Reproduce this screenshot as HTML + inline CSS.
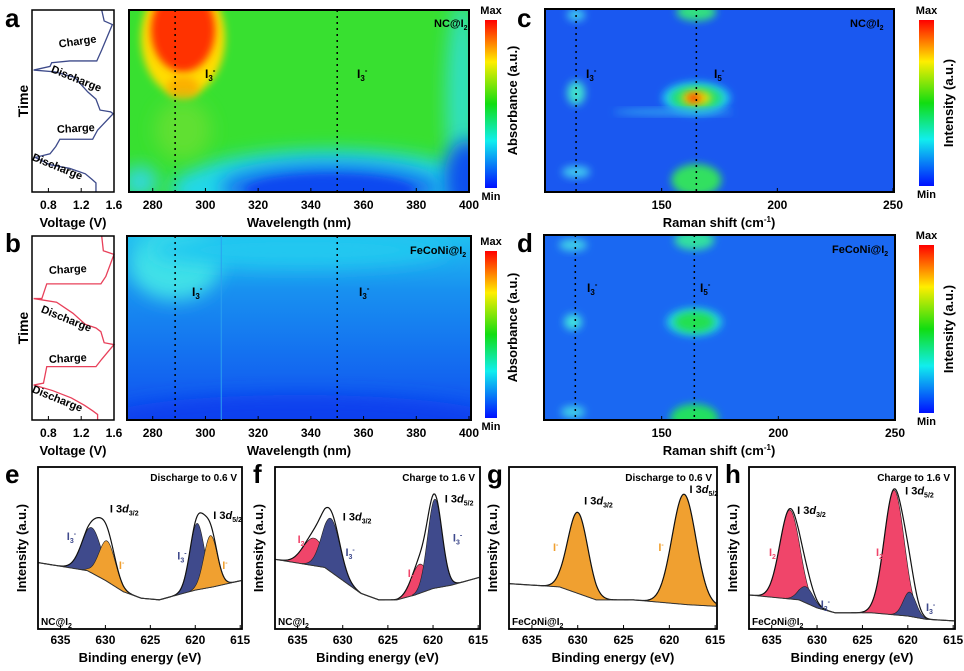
<!DOCTYPE html>
<html><head><meta charset="utf-8"><style>
body{margin:0;background:#fff;width:964px;height:666px;overflow:hidden}
svg{font-family:"Liberation Sans",Arial,sans-serif;font-weight:bold}
</style></head><body>
<svg id="fig" width="964" height="666" viewBox="0 0 964 666" xmlns="http://www.w3.org/2000/svg">
<defs>
<linearGradient id="jet" x1="0" y1="0" x2="0" y2="1">
<stop offset="0" stop-color="#ff0000"/><stop offset="0.25" stop-color="#ffee00"/><stop offset="0.5" stop-color="#11dd11"/><stop offset="0.72" stop-color="#11eeee"/><stop offset="1" stop-color="#0010ff"/></linearGradient>
<linearGradient id="bgB" x1="0" y1="0" x2="0" y2="1"><stop offset="0" stop-color="#20c0f0"/><stop offset="0.3" stop-color="#1890f0"/><stop offset="1" stop-color="#1050f0"/></linearGradient>
<filter id="bl" x="-50%" y="-50%" width="200%" height="200%"><feGaussianBlur stdDeviation="9"/></filter>
<filter id="bl2" x="-50%" y="-50%" width="200%" height="200%"><feGaussianBlur stdDeviation="4"/></filter>
<clipPath id="cA"><rect x="129" y="10" width="340" height="182"/></clipPath>
<clipPath id="cB"><rect x="127" y="236" width="344" height="184"/></clipPath>
<clipPath id="cC"><rect x="545" y="9" width="349" height="183"/></clipPath>
<clipPath id="cD"><rect x="544" y="235" width="351" height="185"/></clipPath>
</defs>
<g id="root"></g>
</svg>
<script>
// ---- data ----
const wlTicks=[280,300,320,340,360,380,400];
const ramanTicks=[150,200,250];
const voltTicks=[0.8,1.2,1.6];
const beTicks=[635,630,625,620,615];
const voltA=[1.45,1.48,1.58,1.45,1.39,1.06,0.84,0.82,0.62,0.88,1.12,1.28,1.38,1.43,1.56,1.59,1.40,1.34,0.94,0.89,0.82,0.64,0.82,1.06,1.25,1.33,1.38,1.38];
const timeA=[1.0,0.94,0.92,0.78,0.72,0.72,0.71,0.69,0.67,0.66,0.63,0.55,0.51,0.45,0.44,0.43,0.34,0.29,0.29,0.25,0.21,0.19,0.15,0.13,0.10,0.07,0.05,0.0];
const voltB=[1.45,1.47,1.60,1.50,1.44,0.78,0.72,0.62,0.90,1.10,1.25,1.38,1.44,1.48,1.60,1.45,1.38,0.78,0.74,0.62,0.85,1.08,1.24,1.34,1.40,1.40];
const timeB=[1.0,0.92,0.90,0.78,0.74,0.74,0.66,0.66,0.64,0.58,0.52,0.50,0.48,0.42,0.41,0.33,0.29,0.29,0.20,0.19,0.16,0.12,0.08,0.05,0.03,0.0];
const beBaseE=[637.5,632,630,628,626,624,622,620,618,614.8];
const baseE_=[0.41,0.36,0.30,0.23,0.19,0.18,0.21,0.24,0.26,0.30];
const baseF_=[0.43,0.38,0.30,0.22,0.18,0.18,0.21,0.25,0.27,0.32];
const baseG_=[0.28,0.26,0.22,0.18,0.18,0.18,0.17,0.16,0.15,0.14];
const baseH_=[0.21,0.18,0.13,0.10,0.10,0.10,0.09,0.08,0.06,0.05];
const peakE_c=[631.5,629.8,619.8,618.3], peakE_h=[0.28,0.25,0.41,0.32], peakE_w=[1.1,0.9,0.8,0.75], peakE_s=['I3','I','I3','I'];
const peakF_c=[633.2,631.3,621.5,619.8], peakF_h=[0.17,0.33,0.18,0.55], peakF_w=[1.2,1.0,0.9,0.8], peakF_s=['I2','I3','I2','I3'];
const peakG_c=[630.0,618.4], peakG_h=[0.50,0.68], peakG_w=[1.1,1.3], peakG_s=['I','I'];
const peakH_c=[633.0,631.2,621.5,619.8], peakH_h=[0.55,0.10,0.77,0.15], peakH_w=[1.1,0.8,1.1,0.7], peakH_s=['I2','I3','I2','I3'];
const colors={I3:'#3f4a8c',I:'#f0a030',I2:'#f0456a'};

const NS='http://www.w3.org/2000/svg';
const root=document.getElementById('root');
function el(tag,attrs,parent,text){const e=document.createElementNS(NS,tag);for(const k in attrs)e.setAttribute(k,attrs[k]);if(text!==undefined)e.textContent=text;(parent||root).appendChild(e);return e;}
function T(x,y,s,size,name,extra){const t=el('text',Object.assign({x:x,y:y,'font-size':size||12,fill:'#000'},extra||{}),root);t.innerHTML=s;


return t;}
function lin(d0,d1,r0,r1){return v=>r0+(v-d0)*(r1-r0)/(d1-d0);}

[['a',5,27],['b',5,252],['c',517,27],['d',517,252],['e',5,483],['f',253,483],['g',487,483],['h',725,483]].forEach(p=>{T(p[1],p[2],p[0],26,'panel-label-'+p[0]);});

function voltPanel(y0,y1,V,Tm,col,labels,nm){
  const x=lin(0.6,1.6,32,114), y=lin(0,1,y1,y0);
  const g=el('g',{});
  
  
  const pl=el('polyline',{points:V.map((v,i)=>x(v)+','+y(Tm[i])).join(' '),fill:'none',stroke:col,'stroke-width':1.3},g);
  
  
  el('rect',{x:32,y:y0,width:82,height:y1-y0,fill:'none',stroke:'#000','stroke-width':1.5},g);
  voltTicks.forEach(v=>{el('line',{x1:x(v),x2:x(v),y1:y1,y2:y1-4,stroke:'#000'},g);T(x(v),y1+17,v.toFixed(1),12,'voltage-tick',{'text-anchor':'middle'});});
  T(73,y1+35,'Voltage (V)',13,'voltage-axis-title',{'text-anchor':'middle'});
  T(28,(y0+y1)/2,'Time',14,'time-axis-title',{'text-anchor':'middle',transform:`rotate(-90 28 ${(y0+y1)/2})`});
  labels.forEach(l=>T(l[0],l[1],l[2],11,'state-label',{'text-anchor':'middle',transform:`rotate(${l[3]} ${l[0]} ${l[1]})`}));
}
voltPanel(10,192,voltA,timeA,'#3d4a8a',[[78,45,'Charge',-8],[75,82,'Discharge',22],[76,132,'Charge',-3],[56,170,'Discharge',22]],'voltage-panel-a');
voltPanel(236,420,voltB,timeB,'#e8405a',[[68,273,'Charge',-3],[65,322,'Discharge',22],[68,362,'Charge',-3],[56,402,'Discharge',22]],'voltage-panel-b');

function heat(x0,y0,w,h,clip,bg,blobs,name){
  const g=el('g',{'clip-path':'url(#'+clip+')'});
  
  
  el('rect',{x:x0,y:y0,width:w,height:h,fill:bg},g);
  blobs.forEach(b=>el('ellipse',{cx:b[0],cy:b[1],rx:b[2],ry:b[3],fill:b[4],filter:'url(#'+(b[5]||'bl')+')'},g));
  el('rect',{x:x0,y:y0,width:w,height:h,fill:'none',stroke:'#000','stroke-width':2},root);
}
const wx=lin(271,400,129,469);
const rxC=lin(100,250,546,893);
const rxD=lin(100,250,545,895);
heat(129,10,340,182,'cA','#38e030',[[330,190,160,40,'#20d8e8','bl'],[330,188,110,24,'#1870f0','bl'],[330,190,85,16,'#0c48f0','bl2'],[462,100,16,100,'#30e0c0','bl'],[468,180,24,40,'#1050f0','bl'],[140,182,18,16,'#30d8e0','bl'],[183,38,42,58,'#ffdd00','bl2'],[183,30,32,42,'#ff3000','bl2'],[183,88,16,12,'#ffb000','bl2'],[183,130,28,30,'#60e030','bl']],'uvvis-heatmap-a');
heat(127,236,344,184,'cB','url(#bgB)',[[175,265,45,35,'#40e0e8','bl'],[300,250,150,18,'#20c8f0','bl'],[300,420,200,25,'#0c40ee','bl']],'uvvis-heatmap-b');
el('line',{x1:wx(306),x2:wx(306),y1:236,y2:420,stroke:'#2aa0f0','stroke-width':1});
heat(545,9,349,183,'cC','#1a58f0',[[rxC(165),98,34,16,'#20c8f0','bl2'],[rxC(165),98,26,12,'#20e070','bl2'],[rxC(165),98,15,7,'#f0e000','bl2'],[rxC(164),98,7,4,'#ff2000','bl2'],[rxC(165),180,25,16,'#30e060','bl2'],[rxC(165),12,20,9,'#30e080','bl2'],[rxC(113),93,9,12,'#40e0d0','bl2'],[rxC(113),15,9,6,'#40c8f0','bl2'],[rxC(113),172,14,6,'#40c8f0','bl2'],[rxC(155),112,60,3,'#30a8f0','bl2']],'raman-heatmap-c');
heat(544,235,351,185,'cD','#1a68f2',[[rxD(164),322,28,14,'#20d0e0','bl2'],[rxD(164),322,20,10,'#20e050','bl2'],[rxD(164),418,24,14,'#20e060','bl2'],[rxD(164),240,20,10,'#30e0a0','bl2'],[rxD(112),322,9,8,'#40e0e0','bl2'],[rxD(112),412,12,6,'#40d0e8','bl2'],[rxD(112),245,14,6,'#40d0e8','bl2']],'raman-heatmap-d');

[[wx(288.5),10,192],[wx(350),10,192],[wx(288.5),236,420],[wx(350),236,420],[rxC(113),9,192],[rxC(165),9,192],[rxD(113),235,420],[rxD(164),235,420]].forEach(d=>{const l=el('line',{x1:d[0],x2:d[0],y1:d[1],y2:d[2],stroke:'#000','stroke-width':1.5,'stroke-dasharray':'2,4'});

});
const I3='I<tspan font-size="8" dy="3">3</tspan><tspan font-size="8" dy="-8">-</tspan>';
[[205,78],[357,78],[192,296],[359,296],[586,78],[587,292]].forEach(p=>T(p[0],p[1],I3,12,'i3-label'));
[[714,78],[700,292]].forEach(p=>T(p[0],p[1],'I<tspan font-size="8" dy="3">5</tspan><tspan font-size="8" dy="-8">-</tspan>',12,'i5-label'));
T(434,27,'NC@I<tspan font-size="7" dy="3">2</tspan>',11,'sample-label-a');
T(410,254,'FeCoNi@I<tspan font-size="7" dy="3">2</tspan>',11,'sample-label-b');
T(850,27,'NC@I<tspan font-size="7" dy="3">2</tspan>',11,'sample-label-c');
T(832,253,'FeCoNi@I<tspan font-size="7" dy="3">2</tspan>',11,'sample-label-d');

[192,420].forEach(y=>{wlTicks.forEach(v=>{el('line',{x1:wx(v),x2:wx(v),y1:y,y2:y-4,stroke:'#000'});T(wx(v),y+17,v,12,'wavelength-tick',{'text-anchor':'middle'});});
T(299,y+35,'Wavelength (nm)',13,'wavelength-axis-title',{'text-anchor':'middle'});});
[[192,rxC,9],[420,rxD,235]].forEach(r=>{const y=r[0],rx=r[1];ramanTicks.forEach(v=>{el('line',{x1:rx(v),x2:rx(v),y1:y,y2:y-4,stroke:'#000'});T(rx(v),y+17,v,12,'raman-tick',{'text-anchor':'middle'});});
T(719,y+35,'Raman shift (cm<tspan font-size="8" dy="-5">-1</tspan><tspan dy="5">)</tspan>',13,'raman-axis-title',{'text-anchor':'middle'});
const cy=(y+r[2])/2;T(517,cy,'Absorbance (a.u.)',13,'absorbance-axis-title',{'text-anchor':'middle',transform:`rotate(-90 517 ${cy})`});});

[[485,20,12,168],[485,251,12,167],[919,20,15,166],[919,245,15,168]].forEach((c,i)=>{const r=el('rect',{x:c[0],y:c[1],width:c[2],height:c[3],fill:'url(#jet)'});


T(c[0]+c[2]/2,c[1]-6,'Max',11,'colorbar-max',{'text-anchor':'middle'});T(c[0]+c[2]/2,c[1]+c[3]+12,'Min',11,'colorbar-min',{'text-anchor':'middle'});
if(i>=2){const cy=c[1]+c[3]/2;T(953,cy,'Intensity (a.u.)',13,'colorbar-title',{'text-anchor':'middle',transform:`rotate(-90 953 ${cy})`});}});

function interp(xs,ys,v){for(let i=0;i<xs.length-1;i++){if((v<=xs[i]&&v>=xs[i+1])){const t=(v-xs[i])/(xs[i+1]-xs[i]);return ys[i]+t*(ys[i+1]-ys[i]);}}return ys[ys.length-1];}
function xps(x0,x1,name,base,pc,ph,pw,ps,title,sample,ann){
  const y0=467,y1=629;
  const X=lin(637.5,614.8,x0,x1), Y=lin(0,1,y1,y0);
  const g=el('g',{});
  
  
  const E=[];for(let e=637.5;e>=614.8;e-=0.1)E.push(e);
  const B=E.map(e=>interp(beBaseE,base,e));
  pc.forEach((c,k)=>{
    const pts=[];const back=[];
    E.forEach((e,i)=>{if(Math.abs(e-c)<pw[k]*3.2){pts.push(X(e)+','+Y(B[i]+ph[k]*Math.exp(-((e-c)**2)/(2*pw[k]**2))));back.unshift(X(e)+','+Y(B[i]));}});
    const p=el('polygon',{points:pts.concat(back).join(' '),fill:colors[ps[k]],stroke:'#222','stroke-width':0.6},g);
    
    
  });
  const env=E.map((e,i)=>{let s=B[i];pc.forEach((c,k)=>s+=ph[k]*Math.exp(-((e-c)**2)/(2*pw[k]**2)));return X(e)+','+Y(s);});
  const ln=el('polyline',{points:env.join(' '),fill:'none',stroke:'#111','stroke-width':1.2},g);
  
  
  const bl=el('polyline',{points:E.map((e,i)=>X(e)+','+Y(B[i])).join(' '),fill:'none',stroke:'#333','stroke-width':1},g);
  
  
  el('rect',{x:x0,y:y0,width:x1-x0,height:y1-y0,fill:'none',stroke:'#000','stroke-width':1.8},g);
  beTicks.forEach(v=>{el('line',{x1:X(v),x2:X(v),y1:y1,y2:y1-4,stroke:'#000'},g);T(X(v),y1+15,v,12,'binding-energy-tick',{'text-anchor':'middle'});});
  T((x0+x1)/2,y1+33,'Binding energy (eV)',13,'binding-energy-axis-title',{'text-anchor':'middle'});
  T(x0-12,(y0+y1)/2,'Intensity (a.u.)',13,'intensity-axis-title',{'text-anchor':'middle',transform:`rotate(-90 ${x0-12} ${(y0+y1)/2})`});
  T(x1-5,y0+14,title,10,'condition-label',{'text-anchor':'end'});
  T(x0+3,y1-4,sample,10,'sample-label');
  ann.forEach(a=>T(X(a[0]),Y(a[1]),a[2],11,'annotation',{fill:a[3]||'#000'}));
}
const d32='I 3<tspan font-style="italic">d</tspan><tspan font-size="7" dy="3">3/2</tspan>';
const d52='I 3<tspan font-style="italic">d</tspan><tspan font-size="7" dy="3">5/2</tspan>';
const i3='I<tspan font-size="7" dy="3">3</tspan><tspan font-size="7" dy="-7">-</tspan>';
const im='I<tspan font-size="7" dy="-4">-</tspan>';
const i2='I<tspan font-size="7" dy="3">2</tspan>';
xps(38,242,'xps-panel-e',baseE_,peakE_c,peakE_h,peakE_w,peakE_s,'Discharge to 0.6 V','NC@I<tspan font-size="7" dy="3">2</tspan>',
 [[629.5,0.72,d32],[618,0.68,d52],[634.3,0.55,i3,'#3f4a8c'],[622,0.43,i3,'#3f4a8c'],[628.5,0.37,im,'#f0a030'],[617,0.37,im,'#f0a030']]);
xps(275,480,'xps-panel-f',baseF_,peakF_c,peakF_h,peakF_w,peakF_s,'Charge to 1.6 V','NC@I<tspan font-size="7" dy="3">2</tspan>',
 [[630,0.67,d32],[618.7,0.78,d52],[635,0.53,i2,'#f0456a'],[629.7,0.45,i3,'#3f4a8c'],[622.8,0.32,i2,'#f0456a'],[617.8,0.54,i3,'#3f4a8c']]);
xps(509,717,'xps-panel-g',baseG_,peakG_c,peakG_h,peakG_w,peakG_s,'Discharge to 0.6 V','FeCoNi@I<tspan font-size="7" dy="3">2</tspan>',
 [[629.3,0.77,d32],[617.8,0.84,d52],[632.7,0.48,im,'#f0a030'],[621.2,0.48,im,'#f0a030']]);
xps(749,955,'xps-panel-h',baseH_,peakH_c,peakH_h,peakH_w,peakH_s,'Charge to 1.6 V','FeCoNi@I<tspan font-size="7" dy="3">2</tspan>',
 [[632.2,0.71,d32],[620.3,0.83,d52],[635.3,0.45,i2,'#f0456a'],[629.6,0.13,i3,'#3f4a8c'],[623.5,0.45,i2,'#f0456a'],[618,0.11,i3,'#3f4a8c']]);
</script>
</body></html>
